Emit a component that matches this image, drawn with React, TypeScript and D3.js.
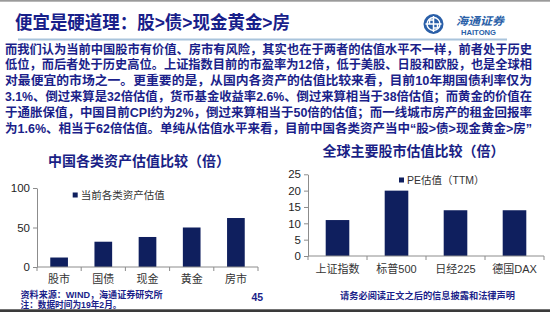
import React, { useEffect, useRef } from 'react';
import * as d3 from 'd3';

// slide texts
const slideTitle = '便宜是硬道理：股>债>现金黄金>房';
const bodyLines = [
    '而我们认为当前中国股市有价值、房市有风险，其实也在于两者的估值水平不一样，前者处于历史',
    '低位，而后者处于历史高位。上证指数目前的市盈率为12倍，低于美股、日股和欧股，也是全球相',
    '对最便宜的市场之一。更重要的是，从国内各资产的估值比较来看，目前10年期国债利率仅为',
    '3.1%、倒过来算是32倍估值，货币基金收益率2.6%、倒过来算相当于38倍估值；而黄金的价值在',
    '于通胀保值，中国目前CPI约为2%，倒过来算相当于50倍的估值；而一线城市房产的租金回报率',
    '为1.6%、相当于62倍估值。单纯从估值水平来看，目前中国各类资产当中“股>债>现金黄金>房”',
];

// left chart
const assetTitle = '中国各类资产估值比较（倍）';
const assetLegend = '当前各类资产估值';
const assetCategories = ['股市', '国债', '现金', '黄金', '房市'];
const assetValues = [12, 32, 38, 50, 62];
const assetTicks = [0, 50, 100];

// right chart
const marketTitle = '全球主要股市估值比较（倍）';
const marketLegend = 'PE估值（TTM）';
const marketCategories = ['上证指数', '标普500', '日经225', '德国DAX'];
const marketValues = [11, 20, 14, 14];
const marketTicks = [0, 5, 10, 15, 20, 25];

const NAVY = '#1b1f8a';
const BAR = '#0f1f5e';
const CJK = '"Noto Sans CJK SC", "Liberation Sans", sans-serif';
const LATIN = '"Liberation Sans", "Noto Sans CJK SC", sans-serif';

interface ChartCfg {
    title: string;
    titleX: number;
    titleY: number;
    legend: string;
    legendX: number;
    legendY: number;
    categories: string[];
    values: number[];
    ticks: number[];
    xRange: [number, number];
    yRange: [number, number];
    labelY: number;
}

const App: React.FC = () => {
    const svgRef = useRef<SVGSVGElement>(null);

    useEffect(() => {
        const width = 550;
        const height = 312;
        const root = d3.select(svgRef.current);
        root.selectAll('*').remove();
        root.attr('width', width).attr('height', height);

        const svg = root.append('g');

        svg.append('rect').attr('width', width).attr('height', height).attr('fill', '#ffffff');

        // top grey border and bottom dark band
        svg.append('rect').attr('x', 0).attr('y', 0).attr('width', width).attr('height', 1.7).attr('fill', '#9a9a9a');
        svg.append('rect').attr('x', 0).attr('y', 309.3).attr('width', width).attr('height', 3).attr('fill', '#3a3a3a');

        // header
        svg.append('text')
            .attr('x', 15).attr('y', 29)
            .attr('textLength', 275).attr('lengthAdjust', 'spacingAndGlyphs')
            .style('font-family', LATIN).style('font-size', '18.5px').style('font-weight', 700)
            .attr('fill', '#18208a')
            .text(slideTitle);

        svg.append('line')
            .attr('x1', 18).attr('x2', 507).attr('y1', 39.5).attr('y2', 39.5)
            .attr('stroke', '#a9c4dc').attr('stroke-width', 2);

        // logo
        const logo = svg.append('g').attr('transform', 'translate(433.5,24)');
        logo.append('circle').attr('r', 10).attr('fill', '#2a5fa8');
        logo.append('circle').attr('r', 6.5).attr('fill', 'none').attr('stroke', '#ffffff').attr('stroke-width', 1.4);
        logo.append('path').attr('d', 'M-8,0 H8 M0,-8 V8 M-4,-4 H0 M0,4 H4 M-4,-4 V0 M4,0 V4')
            .attr('stroke', '#ffffff').attr('stroke-width', 1.5).attr('fill', 'none');
        svg.append('text')
            .attr('x', 456).attr('y', 25)
            .attr('textLength', 48).attr('lengthAdjust', 'spacingAndGlyphs')
            .style('font-family', CJK).style('font-size', '11px').style('font-weight', 700).style('font-style', 'italic')
            .attr('fill', '#2a5fa8').text('海通证券');
        svg.append('text')
            .attr('x', 461).attr('y', 35)
            .attr('textLength', 35).attr('lengthAdjust', 'spacingAndGlyphs')
            .style('font-family', LATIN).style('font-size', '7px').style('font-weight', 700)
            .attr('fill', '#2a5fa8').text('HAITONG');

        // paragraph
        const lineStep = 15.8;
        svg.append('g').selectAll('text')
            .data(bodyLines)
            .enter()
            .append('text')
            .attr('x', 5)
            .attr('y', (_d, i) => 53.5 + i * lineStep)
            .attr('textLength', 527)
            .attr('lengthAdjust', 'spacingAndGlyphs')
            .style('font-family', LATIN).style('font-size', '12.5px').style('font-weight', 700)
            .attr('fill', NAVY)
            .text(d => d);

        const drawChart = (cfg: ChartCfg) => {
            const g = svg.append('g');

            g.append('text')
                .attr('x', cfg.titleX).attr('y', cfg.titleY + 5)
                .attr('text-anchor', 'middle')
                .style('font-family', CJK).style('font-size', '14px').style('font-weight', 700)
                .attr('fill', '#1a1f86')
                .text(cfg.title);

            const x = d3.scaleBand<string>()
                .domain(cfg.categories)
                .range(cfg.xRange)
                .paddingInner(0);

            const y = d3.scaleLinear()
                .domain([cfg.ticks[0], cfg.ticks[cfg.ticks.length - 1]])
                .range(cfg.yRange);

            // bars (gap width 150%)
            const barW = x.bandwidth() * 0.4;
            g.selectAll('rect.bar')
                .data(cfg.values)
                .enter()
                .append('rect')
                .attr('class', 'bar')
                .attr('x', (_d, i) => (x(cfg.categories[i]) || 0) + (x.bandwidth() - barW) / 2)
                .attr('y', d => y(d))
                .attr('width', barW)
                .attr('height', d => y(0) - y(d))
                .attr('fill', BAR);

            // y axis
            const yAxis = g.append('g')
                .attr('transform', `translate(${cfg.xRange[0]},0)`)
                .call(d3.axisLeft(y).tickValues(cfg.ticks).tickSize(4).tickSizeOuter(0).tickPadding(3));
            yAxis.select('.domain').attr('stroke', '#8c8c8c');
            yAxis.selectAll('.tick line').attr('stroke', '#8c8c8c');
            yAxis.selectAll('.tick text')
                .style('font-family', LATIN).style('font-size', '11.5px')
                .attr('fill', '#1e1e1e');

            // x axis with boundary ticks
            g.append('line')
                .attr('x1', cfg.xRange[0]).attr('x2', cfg.xRange[1])
                .attr('y1', y(0)).attr('y2', y(0))
                .attr('stroke', '#8c8c8c');
            const bounds = d3.range(cfg.categories.length + 1).map(i => cfg.xRange[0] + i * x.step());
            g.selectAll('line.xtick')
                .data(bounds)
                .enter()
                .append('line')
                .attr('class', 'xtick')
                .attr('x1', d => d).attr('x2', d => d)
                .attr('y1', y(0)).attr('y2', y(0) + 4)
                .attr('stroke', '#8c8c8c');

            g.selectAll('text.xlabel')
                .data(cfg.categories)
                .enter()
                .append('text')
                .attr('class', 'xlabel')
                .attr('x', d => (x(d) || 0) + x.bandwidth() / 2)
                .attr('y', cfg.labelY + 4)
                .attr('text-anchor', 'middle')
                .style('font-family', LATIN).style('font-size', '11px')
                .attr('fill', '#333333')
                .text(d => d);

            // legend
            g.append('rect')
                .attr('x', cfg.legendX).attr('y', cfg.legendY - 2.5)
                .attr('width', 5).attr('height', 5)
                .attr('fill', BAR);
            g.append('text')
                .attr('x', cfg.legendX + 8).attr('y', cfg.legendY + 3.8)
                .style('font-family', LATIN).style('font-size', '10.5px')
                .attr('fill', '#333333')
                .text(cfg.legend);
        };

        drawChart({
            title: assetTitle, titleX: 139, titleY: 160.7,
            legend: assetLegend, legendX: 72.7, legendY: 195,
            categories: assetCategories, values: assetValues, ticks: assetTicks,
            xRange: [37, 258], yRange: [267, 188], labelY: 279,
        });

        drawChart({
            title: marketTitle, titleX: 413.5, titleY: 151,
            legend: marketLegend, legendX: 399, legendY: 180,
            categories: marketCategories, values: marketValues, ticks: marketTicks,
            xRange: [308, 544], yRange: [256, 174.3], labelY: 269.3,
        });

        // footer
        const foot = svg.append('g')
            .style('font-family', LATIN).style('font-weight', 700).attr('fill', NAVY);
        foot.append('text').attr('x', 20.5).attr('y', 298)
            .attr('textLength', 142).attr('lengthAdjust', 'spacingAndGlyphs')
            .style('font-size', '9px').text('资料来源：WIND，海通证券研究所');
        foot.append('text').attr('x', 20.5).attr('y', 307.5)
            .attr('textLength', 101).attr('lengthAdjust', 'spacingAndGlyphs')
            .style('font-size', '9px').text('注：数据时间为19年2月。');
        foot.append('text').attr('x', 251.5).attr('y', 300.5)
            .style('font-size', '10.5px').text('45');
        foot.append('text').attr('x', 340).attr('y', 298.5)
            .attr('textLength', 175).attr('lengthAdjust', 'spacingAndGlyphs')
            .style('font-size', '9.2px').text('请务必阅读正文之后的信息披露和法律声明');
    }, []);

    return <svg ref={svgRef} style={{ position: 'absolute', left: 0, top: 0 }}></svg>;
};

export default App;
